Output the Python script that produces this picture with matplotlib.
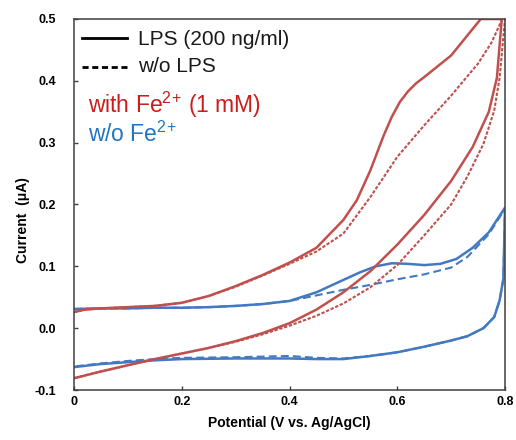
import matplotlib
matplotlib.use("Agg")
import matplotlib.pyplot as plt
from matplotlib.lines import Line2D

plt.rcParams['font.family'] = ['Liberation Sans', 'DejaVu Sans']
plt.rcParams['mathtext.default'] = 'regular'

# ---------------- data ----------------
# Red: with Fe2+ (1 mM); solid: LPS (200 ng/ml)
red_lps_up_v = [0, 0.02, 0.05, 0.1, 0.15, 0.2, 0.25, 0.3, 0.35, 0.4, 0.45, 0.5,
                0.525, 0.55, 0.575, 0.59, 0.605, 0.62, 0.635, 0.65, 0.7, 0.755]
red_lps_up_i = [0.026, 0.030, 0.032, 0.034, 0.036, 0.041, 0.052, 0.068, 0.086, 0.106,
                0.130, 0.175, 0.207, 0.255, 0.312, 0.342, 0.366, 0.383, 0.396, 0.406,
                0.441, 0.500]
red_lps_dn_v = [0, 0.05, 0.1, 0.15, 0.2, 0.25, 0.3, 0.35, 0.4, 0.45, 0.5, 0.55,
                0.6, 0.65, 0.7, 0.74, 0.77, 0.785, 0.794]
red_lps_dn_i = [-0.081, -0.070, -0.060, -0.050, -0.041, -0.032, -0.021, -0.008, 0.008,
                0.030, 0.058, 0.092, 0.135, 0.183, 0.238, 0.293, 0.350, 0.405, 0.500]

# Red dashed: with Fe2+, w/o LPS
red_ctl_up_v = [0, 0.02, 0.05, 0.1, 0.15, 0.2, 0.25, 0.3, 0.35, 0.4, 0.45, 0.5,
                0.55, 0.6, 0.65, 0.7, 0.75, 0.775, 0.795]
red_ctl_up_i = [0.026, 0.030, 0.032, 0.034, 0.036, 0.041, 0.052, 0.067, 0.085, 0.104,
                0.124, 0.153, 0.212, 0.277, 0.328, 0.376, 0.428, 0.462, 0.500]
red_ctl_dn_v = [0, 0.05, 0.1, 0.15, 0.2, 0.25, 0.3, 0.35, 0.4, 0.45, 0.5, 0.55,
                0.6, 0.65, 0.7, 0.73, 0.76, 0.78, 0.79, 0.8]
red_ctl_dn_i = [-0.081, -0.070, -0.060, -0.050, -0.041, -0.032, -0.022, -0.010, 0.004,
                0.020, 0.040, 0.066, 0.102, 0.150, 0.200, 0.245, 0.298, 0.352, 0.405, 0.500]

# Blue: w/o Fe2+; solid: LPS
blue_lps_up_v = [0, 0.05, 0.1, 0.15, 0.2, 0.25, 0.3, 0.35, 0.4, 0.45, 0.5, 0.53,
                 0.56, 0.59, 0.62, 0.65, 0.68, 0.71, 0.74, 0.77, 0.8]
blue_lps_up_i = [0.031, 0.032, 0.032, 0.033, 0.033, 0.034, 0.036, 0.039, 0.044, 0.058,
                 0.078, 0.090, 0.100, 0.105, 0.104, 0.102, 0.104, 0.112, 0.130, 0.155, 0.195]
blue_lps_dn_v = [0, 0.05, 0.1, 0.15, 0.2, 0.3, 0.4, 0.45, 0.5, 0.55, 0.6, 0.65,
                 0.7, 0.73, 0.76, 0.78, 0.79, 0.797, 0.8]
blue_lps_dn_i = [-0.063, -0.058, -0.055, -0.052, -0.050, -0.049, -0.049, -0.050, -0.050,
                 -0.045, -0.039, -0.030, -0.020, -0.013, 0.000, 0.018, 0.045, 0.080, 0.195]

# Blue dashed: w/o Fe2+, w/o LPS
blue_ctl_up_v = [0, 0.05, 0.1, 0.15, 0.2, 0.25, 0.3, 0.35, 0.4, 0.45, 0.5, 0.55,
                 0.6, 0.65, 0.7, 0.73, 0.77, 0.8]
blue_ctl_up_i = [0.031, 0.032, 0.032, 0.033, 0.033, 0.034, 0.036, 0.039, 0.044, 0.053,
                 0.062, 0.070, 0.079, 0.087, 0.098, 0.115, 0.152, 0.193]
blue_ctl_dn_v = [0, 0.05, 0.1, 0.15, 0.2, 0.3, 0.4, 0.45, 0.5, 0.55, 0.6, 0.65,
                 0.7, 0.73, 0.76, 0.78, 0.79, 0.797, 0.8]
blue_ctl_dn_i = [-0.062, -0.057, -0.053, -0.050, -0.048, -0.047, -0.045, -0.048, -0.049,
                 -0.045, -0.039, -0.030, -0.020, -0.013, 0.000, 0.018, 0.045, 0.080, 0.193]

x_ticks = [0, 0.2, 0.4, 0.6, 0.8]
x_tick_labels = ['0', '0.2', '0.4', '0.6', '0.8']
y_ticks = [-0.1, 0.0, 0.1, 0.2, 0.3, 0.4, 0.5]
y_tick_labels = ['-0.1', '0.0', '0.1', '0.2', '0.3', '0.4', '0.5']

RED = '#C0504D'
BLUE = '#4279C0'
RED_TXT = '#CC1C1C'
BLUE_TXT = '#2275C4'

fig = plt.figure(figsize=(5.16, 4.40), dpi=100)
ax = fig.add_axes([74/516, 1-390/440, 431/516, 371/440])

def loop(up_v, up_i, dn_v, dn_i):
    return list(up_v) + list(dn_v)[::-1], list(up_i) + list(dn_i)[::-1]

lw = 1.8
v, i = loop(blue_lps_up_v, blue_lps_up_i, blue_lps_dn_v, blue_lps_dn_i)
ax.plot(v, i, color=BLUE, lw=lw, solid_joinstyle='round')
v, i = loop(blue_ctl_up_v, blue_ctl_up_i, blue_ctl_dn_v, blue_ctl_dn_i)
ax.plot(v, i, color=BLUE, lw=1.5, dashes=(3.8, 2.0))
v, i = loop(red_lps_up_v, red_lps_up_i, red_lps_dn_v, red_lps_dn_i)
ax.plot(v, i, color=RED, lw=lw, solid_joinstyle='round')
v, i = loop(red_ctl_up_v, red_ctl_up_i, red_ctl_dn_v, red_ctl_dn_i)
ax.plot(v, i, color=RED, lw=1.5, dashes=(1.6, 0.8))

ax.set_xlim(0, 0.8)
ax.set_ylim(-0.1, 0.5)
ax.set_xticks(x_ticks)
ax.set_xticklabels(x_tick_labels, fontweight='bold', fontsize=9)
ax.set_yticks(y_ticks)
ax.set_yticklabels(y_tick_labels, fontweight='bold', fontsize=9)
ax.tick_params(axis='both', direction='in', length=3, width=1, color='#404040')
ax.tick_params(axis='y', pad=13)
ax.tick_params(axis='x', pad=4)
for s in ax.spines.values():
    s.set_color('#404040')
    s.set_linewidth(1.1)

ax.set_xlabel('Potential (V vs. Ag/AgCl)', fontweight='bold', fontsize=10)
ax.xaxis.set_label_coords(0.5, -0.07)
ax.set_ylabel('Current  (\u03bcA)', fontweight='bold', fontsize=10)
ax.yaxis.set_label_coords(-0.102, 0.458)

# legend-like annotations
ax.add_line(Line2D([0.018, 0.122], [0.948, 0.948], transform=ax.transAxes,
                   color='black', lw=2.0))
ax.add_line(Line2D([0.018, 0.122], [0.870, 0.870], transform=ax.transAxes,
                   color='black', lw=2.0, dashes=(2.2, 1.3)))
ax.text(0.148, 0.929, 'LPS (200 ng/ml)', transform=ax.transAxes, fontsize=15,
        va='baseline', ha='left', color='#1a1a1a')
ax.text(0.148, 0.858, 'w/o LPS', transform=ax.transAxes, fontsize=15,
        va='baseline', ha='left', color='#1a1a1a')
ax.text(0.032, 0.7466, 'with Fe$^{2}$$^{+}$ (1 mM)', transform=ax.transAxes,
        fontsize=16.5, va='baseline', ha='left', color=RED_TXT)
ax.text(0.032, 0.668, 'w/o Fe$^{2}$$^{+}$', transform=ax.transAxes, fontsize=16.5,
        va='baseline', ha='left', color=BLUE_TXT)

fig.savefig('out.png', dpi=100)
